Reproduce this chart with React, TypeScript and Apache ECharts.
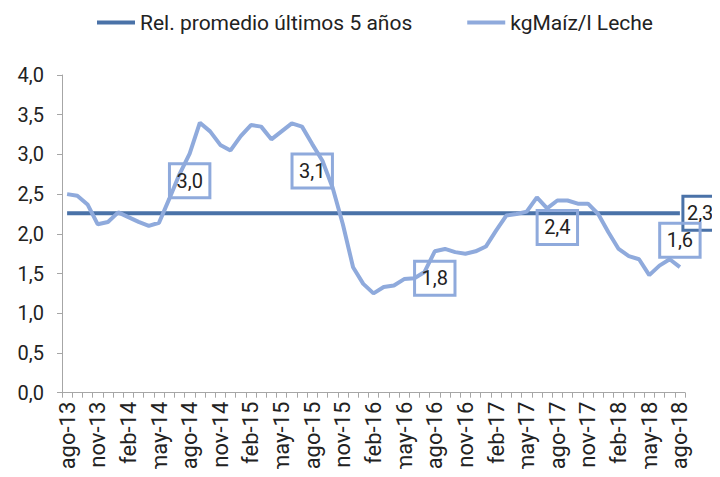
import React, { useEffect, useRef } from "react";
import * as echarts from "echarts";

const categories = [
  "ago-13","sep-13","oct-13","nov-13","dic-13",
  "ene-14","feb-14","mar-14","abr-14","may-14","jun-14","jul-14","ago-14","sep-14","oct-14","nov-14","dic-14",
  "ene-15","feb-15","mar-15","abr-15","may-15","jun-15","jul-15","ago-15","sep-15","oct-15","nov-15","dic-15",
  "ene-16","feb-16","mar-16","abr-16","may-16","jun-16","jul-16","ago-16","sep-16","oct-16","nov-16","dic-16",
  "ene-17","feb-17","mar-17","abr-17","may-17","jun-17","jul-17","ago-17","sep-17","oct-17","nov-17","dic-17",
  "ene-18","feb-18","mar-18","abr-18","may-18","jun-18","jul-18","ago-18",
];

const maizLeche = [
  2.50, 2.48, 2.37, 2.12, 2.15,
  2.27, 2.21, 2.15, 2.10, 2.14, 2.44, 2.75, 3.01, 3.40, 3.29, 3.12, 3.05,
  3.23, 3.37, 3.35, 3.19, 3.29, 3.39, 3.35, 3.13, 2.92, 2.58, 2.12, 1.58,
  1.37, 1.25, 1.33, 1.35, 1.43, 1.44, 1.52, 1.78, 1.81, 1.77, 1.75, 1.78,
  1.84, 2.04, 2.23, 2.25, 2.28, 2.46, 2.32, 2.42, 2.42, 2.38, 2.38, 2.25,
  2.02, 1.81, 1.72, 1.68, 1.48, 1.60, 1.68, 1.58,
];

const promedio5 = 2.26;

const labelsBelow = ["ago-14", "ago-15", "ago-16", "ago-17"];
const labelsAbove = ["ago-18"];

const SERIES_AVG = "Rel. promedio últimos 5 años";
const SERIES_MAIZ = "kgMaíz/l Leche";

const DARK = "#4a72a8";
const LIGHT = "#8faadc";
const TEXT = "#222222";
const AXIS = "#a6a6a6";
const FONT = "Roboto, 'Noto Sans', sans-serif";

const fmt = (v: number) => v.toFixed(1).replace(".", ",");

export default function App() {
  const ref = useRef<HTMLDivElement>(null);

  useEffect(() => {
    if (!ref.current) return;
    const chart = echarts.init(ref.current, undefined, { renderer: "svg" });

    const boxLabel = (color: string, position: string, distance: number, padX = 7) => ({
      show: true,
      position,
      distance,
      formatter: (p: any) => fmt(p.value),
      color: TEXT,
      fontSize: 20,
      fontFamily: FONT,
      lineHeight: 20,
      padding: [7, padX],
      borderColor: color,
      borderWidth: 3,
      borderRadius: 0,
    });

    const maizData = maizLeche.map((v, i) => {
      const c = categories[i];
      if (labelsBelow.includes(c)) return { value: v, label: boxLabel(LIGHT, "bottom", 10) };
      if (labelsAbove.includes(c)) return { value: v, label: boxLabel(LIGHT, "top", 10) };
      return { value: v };
    });

    const avgData = categories.map((c, i) =>
      i === categories.length - 1
        ? { value: promedio5, label: boxLabel(DARK, "right", 3, 4) }
        : { value: promedio5 }
    );

    chart.setOption({
      animation: false,
      textStyle: { fontFamily: FONT },
      legend: {
        top: 12,
        left: 97,
        padding: 0,
        itemGap: 55,
        itemWidth: 38,
        itemHeight: 4,
        icon: "rect",
        textStyle: { color: TEXT, fontSize: 21, fontFamily: FONT },
        data: [
          { name: SERIES_AVG, itemStyle: { color: DARK } },
          { name: SERIES_MAIZ, itemStyle: { color: LIGHT } },
        ],
      },
      grid: { left: 62, right: 35, top: 75, bottom: 82, containLabel: false },
      xAxis: {
        type: "category",
        data: categories,
        boundaryGap: true,
        axisLine: { show: true, lineStyle: { color: AXIS, width: 1 } },
        axisTick: { show: true, interval: 0, length: 5, lineStyle: { color: AXIS } },
        axisLabel: {
          interval: 2,
          rotate: 90,
          color: TEXT,
          fontSize: 22,
          fontFamily: FONT,
          margin: 9,
        },
        splitLine: { show: false },
      },
      yAxis: {
        type: "value",
        min: 0,
        max: 4,
        interval: 0.5,
        axisLine: { show: true, lineStyle: { color: AXIS, width: 1 } },
        axisTick: { show: true, length: 5, lineStyle: { color: AXIS } },
        axisLabel: {
          color: TEXT,
          fontSize: 20,
          fontFamily: FONT,
          margin: 18,
          formatter: (v: number) => fmt(v),
        },
        splitLine: { show: false },
      },
      series: [
        {
          name: SERIES_AVG,
          type: "line",
          data: avgData,
          color: DARK,
          symbol: "circle",
          symbolSize: 0.01,
          showSymbol: true,
          lineStyle: { color: DARK, width: 4 },
          itemStyle: { color: DARK },
          z: 2,
        },
        {
          name: SERIES_MAIZ,
          type: "line",
          data: maizData,
          color: LIGHT,
          symbol: "circle",
          symbolSize: 0.01,
          showSymbol: true,
          lineStyle: { color: LIGHT, width: 4 },
          itemStyle: { color: LIGHT },
          z: 3,
        },
      ],
    });

    return () => chart.dispose();
  }, []);

  return <div ref={ref} style={{ width: 720, height: 477, margin: -8 }} />;
}
